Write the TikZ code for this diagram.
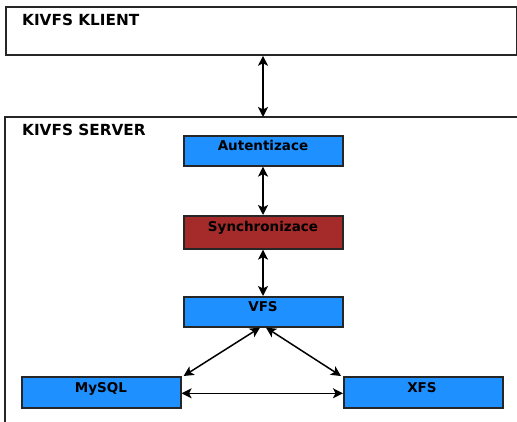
\documentclass[tikz,border=0pt]{standalone}
\usepackage{fontspec}
\setmainfont{DejaVu Sans}
\usetikzlibrary{arrows.meta}
\definecolor{boxblue}{RGB}{30,144,255}
\definecolor{boxred}{RGB}{165,42,42}
\tikzset{
  comp/.style={draw=black!85, line width=1.6pt, minimum width=159pt, minimum height=30pt, inner sep=0pt},
  lbl/.style={font=\bfseries\fontsize{13.5}{15}\selectfont, anchor=base},
  title/.style={font=\bfseries\fontsize{15.3}{17}\selectfont, anchor=base west, inner sep=0pt},
  tip/.style={},
  conn/.style={{Stealth[length=10pt,width=10pt,inset=2.5pt]}-{Stealth[length=10pt,width=10pt,inset=2.5pt]}, line width=1.5pt},
  frame/.style={line width=1.8pt, draw=black!85}
}
\begin{document}
\begin{tikzpicture}[x=1pt,y=-1pt]
\useasboundingbox (0,0) rectangle (517,422);
% client frame
\node[frame, draw, minimum width=511pt, minimum height=48pt, inner sep=0pt, anchor=north west] (klient) at (5,6) {};
\node[title] (klt) at (22,25.5) {KIVFS KLIENT};
% server frame (open right and bottom)
\draw[frame] (5,430) -- (5,117) -- (525,117);
\coordinate (srvtop) at (263,117);
\node[title] (svt) at (22,136) {KIVFS SERVER};
% components
\node[comp, fill=boxblue, anchor=north west] (aut) at (183,135) {};
\node[lbl] at (263,151) {Autentizace};
\node[comp, fill=boxred, anchor=north west, minimum height=33pt] (syn) at (183,215) {};
\node[lbl] at (263,232) {Synchronizace};
\node[comp, fill=boxblue, anchor=north west] (vfs) at (183,296) {};
\node[lbl] at (263,311.5) {VFS};
\node[comp, fill=boxblue, anchor=north west, minimum height=31pt] (mysql) at (21,376) {};
\node[lbl] at (101,392) {MySQL};
\node[comp, fill=boxblue, anchor=north west, minimum height=31pt] (xfs) at (343,376) {};
\node[lbl] at (422,392) {XFS};
% connectors
\draw[conn] (klient.south -| srvtop) -- (srvtop);
\draw[conn] (aut.south -| srvtop) -- (syn.north -| srvtop);
\draw[conn] (syn.south -| srvtop) -- (vfs.north -| srvtop);
\draw[conn] ([xshift=-3pt]vfs.south -| srvtop) -- ([xshift=2pt]mysql.north east);
\draw[conn] ([xshift=3pt]vfs.south -| srvtop) -- ([xshift=-2pt]xfs.north west);
\draw[conn] ([yshift=-1pt]mysql.east) -- ([yshift=-1pt]xfs.west);
\end{tikzpicture}
\end{document}
